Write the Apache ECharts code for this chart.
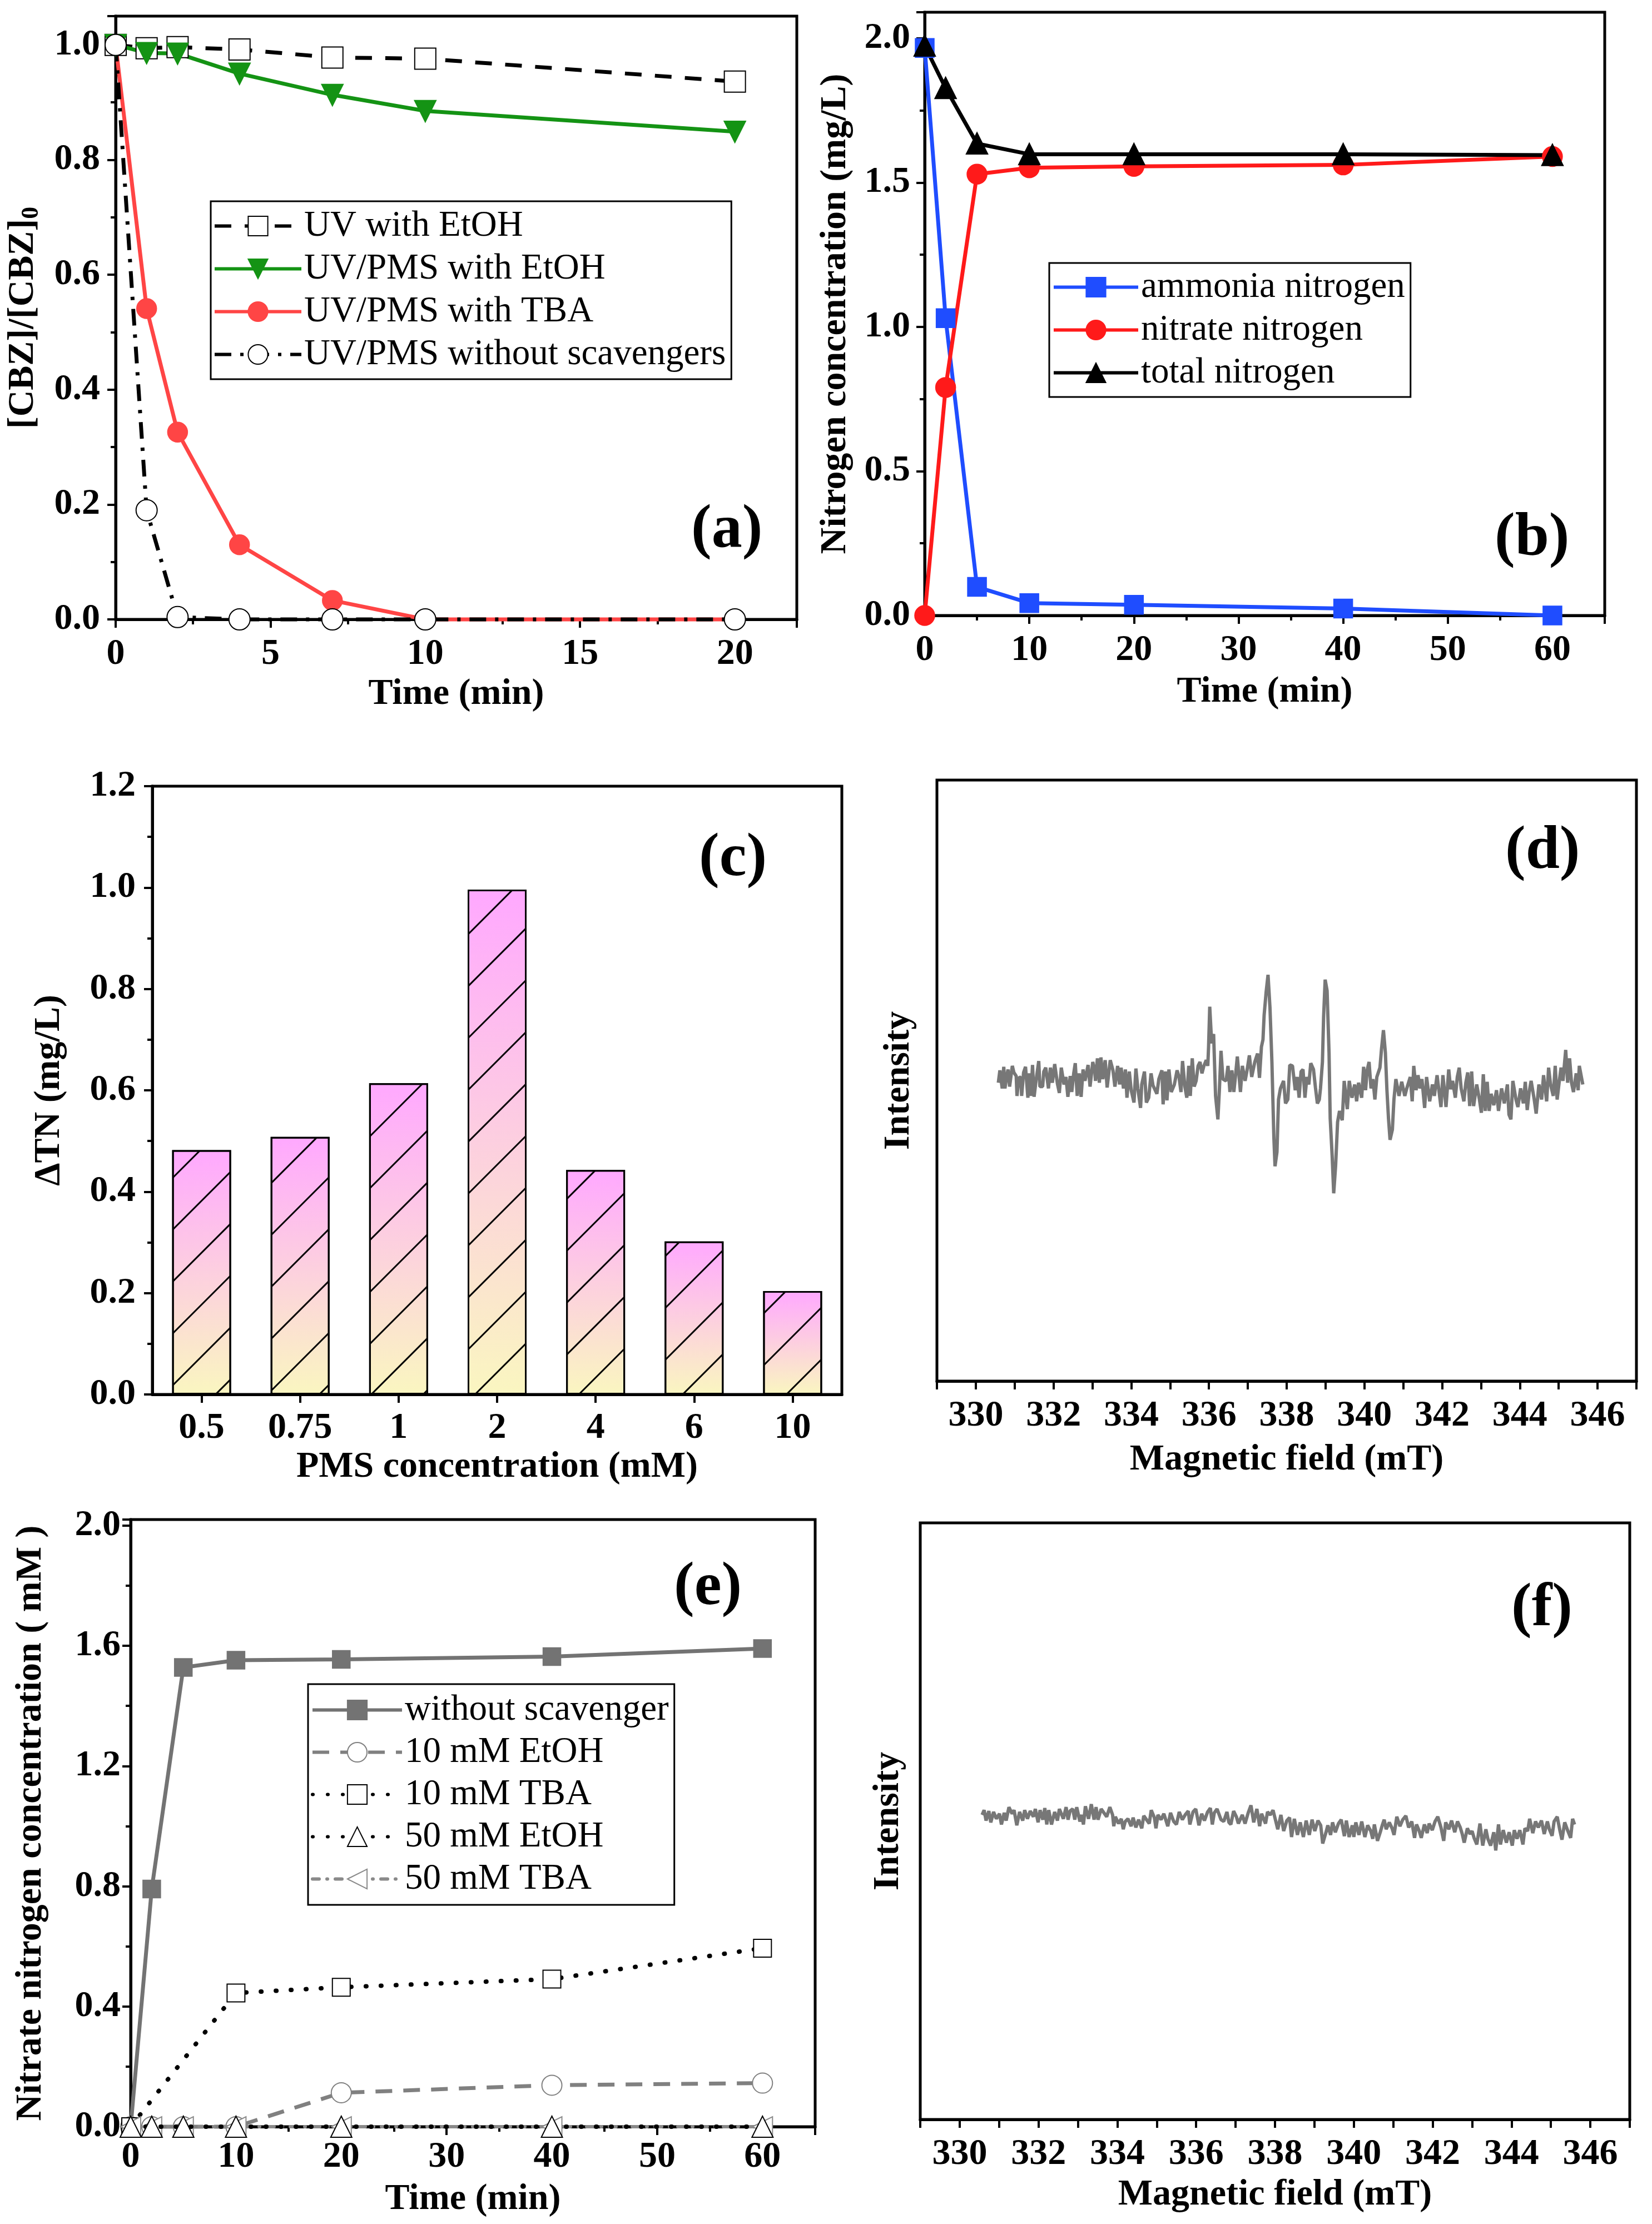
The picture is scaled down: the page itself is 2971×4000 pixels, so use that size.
<!DOCTYPE html>
<html>
<head>
<meta charset="utf-8">
<script src="https://cdn.jsdelivr.net/npm/echarts@6/dist/echarts.min.js"></script>
<style>
  html, body { margin: 0; padding: 0; background: #fff; }
  #main { width: 2971px; height: 4000px; }
</style>
</head>
<body>
<div id="main"></div>
<script>
/* six-panel figure: CBZ decay, nitrogen balance, PMS dose, ESR spectra */

// ---- (a) CBZ removal ----
var timeA = [0, 1, 2, 4, 7, 10, 20];
var uvEtoh = [1.0, 0.994, 0.996, 0.992, 0.978, 0.976, 0.936];
var uvPmsEtoh = [1.0, 0.986, 0.985, 0.95, 0.913, 0.885, 0.849];
var uvPmsTba = [1.0, 0.541, 0.326, 0.13, 0.033, 0.0, 0.0];
var uvPmsNone = [1.0, 0.19, 0.004, 0.0, 0.0, 0.0, 0.0];

// ---- (b) nitrogen species ----
var timeB = [0, 2, 5, 10, 20, 40, 60];
var ammoniaN = [1.966, 1.03, 0.099, 0.043, 0.037, 0.024, 0.0];
var nitrateN = [0.0, 0.79, 1.529, 1.551, 1.556, 1.561, 1.59];
var totalN = [1.974, 1.827, 1.635, 1.598, 1.598, 1.598, 1.595];

// ---- (c) delta TN vs PMS dose ----
var pmsConc = ['0.5', '0.75', '1', '2', '4', '6', '10'];
var deltaTN = [0.482, 0.508, 0.614, 0.996, 0.443, 0.302, 0.204];

// ---- (e) nitrate with scavengers ----
var timeE = [0, 2, 5, 10, 20, 40, 60];
var noScav = [0.0, 0.791, 1.528, 1.552, 1.555, 1.564, 1.591];
var etoh10 = [0, 0, 0, 0, 0.113, 0.138, 0.145];
var timeTba10 = [0, 10, 20, 40, 60];
var tba10 = [0, 0.445, 0.464, 0.491, 0.594];
var etoh50 = [0, 0, 0, 0, 0, 0, 0];
var tba50 = [0, 0, 0, 0, 0, 0, 0];

// ---- (d) ESR spectrum, [field mT, intensity a.u.] ----
var dSpectrum = [
  [330.58,1.3],[330.62,5.4],[330.68,-0.6],[330.72,6.6],[330.75,-0.6],[330.79,3.2],[330.83,5.7],[330.87,0.0],
  [330.94,6.9],[330.98,4.7],[331.04,3.5],[331.06,-3.1],[331.11,2.9],[331.16,3.2],[331.18,-3.1],[331.23,4.7],
  [331.28,6.6],[331.34,-3.7],[331.38,4.4],[331.42,-3.1],[331.46,7.2],[331.50,-3.4],[331.55,1.9],[331.62,8.5],
  [331.65,0.0],[331.72,0.0],[331.75,5.0],[331.80,6.3],[331.87,-0.6],[331.92,6.3],[331.97,1.3],[332.03,7.5],
  [332.10,1.0],[332.15,-2.1],[332.20,6.3],[332.27,0.7],[332.32,3.2],[332.37,-3.4],[332.43,3.5],[332.47,-1.8],
  [332.52,4.4],[332.56,7.8],[332.61,-3.1],[332.66,4.4],[332.71,-3.4],[332.76,5.7],[332.81,1.9],[332.89,7.2],
  [332.94,0.0],[333.01,8.2],[333.06,5.4],[333.08,1.9],[333.13,9.4],[333.18,1.3],[333.22,9.7],[333.27,2.5],
  [333.33,8.8],[333.38,-0.3],[333.46,8.8],[333.53,5.4],[333.58,0.0],[333.65,6.9],[333.70,0.7],[333.74,6.3],
  [333.80,-0.6],[333.85,5.7],[333.89,-3.7],[333.95,5.0],[334.00,-1.2],[334.07,-5.3],[334.12,6.0],[334.17,-0.6],
  [334.24,-7.1],[334.27,0.7],[334.34,5.0],[334.39,-5.3],[334.45,-3.7],[334.51,4.4],[334.56,0.4],[334.66,-2.4],
  [334.71,2.5],[334.79,5.4],[334.82,-5.9],[334.88,5.0],[334.92,-4.6],[334.97,5.7],[335.03,-1.8],[335.11,0.7],
  [335.18,5.4],[335.23,3.2],[335.28,-1.8],[335.32,8.5],[335.38,0.0],[335.43,-3.7],[335.48,6.9],[335.52,-3.1],
  [335.57,9.4],[335.62,0.0],[335.67,1.9],[335.72,6.9],[335.77,8.2],[335.82,4.4],[335.87,6.9],[335.93,8.8],
  [335.97,6.9],[335.99,13.2],[336.02,26.6],[336.07,14.4],[336.12,17.5],[336.17,-3.1],[336.23,-10.9],[336.27,-0.6],
  [336.31,11.9],[336.36,2.5],[336.44,1.9],[336.49,6.9],[336.54,-1.8],[336.59,5.4],[336.64,-1.8],[336.68,3.2],
  [336.73,10.0],[336.81,-1.8],[336.86,6.9],[336.93,1.9],[336.98,5.4],[337.04,10.4],[337.10,3.2],[337.18,8.2],
  [337.25,11.0],[337.30,2.9],[337.35,13.2],[337.39,15.6],[337.42,23.8],[337.47,31.3],[337.52,37.2],[337.57,26.3],
  [337.62,8.2],[337.67,-16.8],[337.70,-26.5],[337.75,-21.8],[337.79,-4.3],[337.84,-0.6],[337.92,1.9],[337.97,-5.6],
  [338.03,-4.3],[338.08,7.2],[338.15,6.9],[338.22,-1.2],[338.27,3.2],[338.32,-3.7],[338.37,5.0],[338.42,5.7],
  [338.47,-3.7],[338.52,3.2],[338.57,0.7],[338.62,7.8],[338.69,5.7],[338.74,-0.3],[338.79,-5.6],[338.84,-4.3],
  [338.87,-0.6],[338.92,8.2],[338.95,23.1],[338.99,35.6],[339.04,31.9],[339.09,11.3],[339.12,-10.6],[339.17,-23.0],
  [339.21,-35.5],[339.26,-26.2],[339.31,-11.8],[339.36,-8.1],[339.43,-11.2],[339.48,1.9],[339.56,-7.5],[339.61,1.9],
  [339.68,-3.7],[339.75,0.7],[339.80,-4.9],[339.85,1.3],[339.93,-3.7],[339.98,6.6],[340.03,-1.2],[340.07,5.4],
  [340.12,8.2],[340.17,-0.6],[340.22,2.5],[340.27,-4.3],[340.32,3.2],[340.40,6.3],[340.44,12.5],[340.49,18.8],
  [340.54,11.3],[340.58,-1.2],[340.62,-10.6],[340.66,-17.7],[340.72,-14.3],[340.76,-4.3],[340.81,2.5],[340.89,-3.1],
  [340.96,1.6],[341.04,-3.1],[341.09,-0.6],[341.18,3.2],[341.23,-4.9],[341.27,6.9],[341.33,-1.2],[341.38,3.8],
  [341.43,-0.6],[341.48,2.5],[341.55,-7.1],[341.60,3.2],[341.68,-4.9],[341.75,0.7],[341.80,-3.1],[341.87,3.8],
  [341.97,-6.8],[342.02,3.8],[342.10,-6.8],[342.17,5.7],[342.22,-0.9],[342.27,1.9],[342.34,-3.7],[342.39,3.2],
  [342.44,6.3],[342.49,-0.6],[342.56,-4.9],[342.61,1.3],[342.66,4.7],[342.71,-6.5],[342.76,5.0],[342.81,-6.5],
  [342.89,0.7],[342.96,-4.3],[343.01,-8.7],[343.06,4.1],[343.11,-8.1],[343.16,1.6],[343.21,-8.1],[343.26,-2.4],
  [343.33,-6.2],[343.40,-1.2],[343.45,-8.1],[343.53,-0.6],[343.60,-5.6],[343.68,0.7],[343.72,-9.3],[343.77,-10.9],
  [343.82,1.9],[343.90,-4.3],[343.95,-6.8],[344.02,-0.6],[344.09,-5.6],[344.14,1.6],[344.19,-7.8],[344.24,-1.8],
  [344.29,1.9],[344.37,-4.3],[344.42,-9.0],[344.49,0.7],[344.56,-4.3],[344.61,3.8],[344.69,-4.9],[344.74,6.3],
  [344.79,0.7],[344.86,-3.1],[344.91,6.9],[344.96,-4.3],[345.01,1.3],[345.06,6.3],[345.11,1.9],[345.18,12.2],
  [345.23,1.3],[345.28,9.4],[345.33,1.3],[345.38,-1.8],[345.45,4.4],[345.50,-1.2],[345.53,6.9],[345.62,0.7]
];

// ---- (f) ESR spectrum without signal ----
var fSpectrum = [
  [330.57,2.1],[330.62,3.7],[330.67,0.2],[330.74,3.4],[330.79,-0.4],[330.86,3.1],[330.93,0.8],[331.01,2.5],
  [331.06,-1.1],[331.13,2.8],[331.18,0.2],[331.25,4.7],[331.33,2.5],[331.38,3.7],[331.45,-1.4],[331.52,3.1],
  [331.60,0.2],[331.65,3.7],[331.72,0.8],[331.79,3.4],[331.87,1.5],[331.92,4.1],[331.99,-0.4],[332.04,3.7],
  [332.11,0.5],[332.16,4.4],[332.21,-1.1],[332.26,3.7],[332.33,-1.1],[332.41,3.1],[332.48,0.2],[332.53,4.1],
  [332.63,0.8],[332.70,4.7],[332.75,0.5],[332.80,3.4],[332.87,4.1],[332.92,0.5],[332.97,4.7],[333.05,-0.1],
  [333.10,2.1],[333.14,-1.1],[333.19,5.0],[333.27,0.8],[333.34,5.7],[333.41,0.5],[333.46,4.7],[333.51,0.5],
  [333.59,4.1],[333.66,2.8],[333.73,1.5],[333.81,4.7],[333.88,2.1],[333.91,-1.7],[333.95,1.5],[334.03,-0.8],
  [334.10,0.8],[334.15,-2.7],[334.20,-0.1],[334.27,0.8],[334.35,-1.7],[334.40,1.2],[334.47,-2.1],[334.54,0.5],
  [334.62,-2.4],[334.67,1.8],[334.74,0.5],[334.81,-0.8],[334.86,3.7],[334.94,1.2],[334.98,-2.4],[335.03,2.1],
  [335.11,0.5],[335.18,2.5],[335.28,-1.7],[335.35,2.8],[335.43,-0.1],[335.50,-1.1],[335.57,3.1],[335.65,0.5],
  [335.72,2.1],[335.80,3.4],[335.84,-1.1],[335.92,3.1],[335.99,4.1],[336.07,-1.4],[336.14,2.5],[336.21,0.2],
  [336.29,3.1],[336.36,4.4],[336.41,-1.1],[336.46,2.8],[336.53,4.1],[336.63,0.5],[336.70,-0.1],[336.78,3.1],
  [336.83,-0.4],[336.88,-1.1],[336.95,3.4],[337.02,1.5],[337.07,-0.8],[337.17,2.1],[337.24,-0.8],[337.32,2.8],
  [337.39,5.3],[337.46,-0.4],[337.54,4.1],[337.61,-1.7],[337.66,2.5],[337.76,-0.8],[337.81,3.1],[337.88,2.1],
  [337.95,3.7],[338.07,-2.7],[338.15,2.1],[338.22,-3.3],[338.30,0.2],[338.37,1.2],[338.42,-5.3],[338.49,0.8],
  [338.57,-4.6],[338.64,-0.4],[338.72,-5.3],[338.79,0.2],[338.87,-4.6],[338.94,0.5],[339.01,-3.3],[339.09,0.2],
  [339.16,-1.4],[339.21,-7.5],[339.29,-3.9],[339.34,-1.4],[339.41,-4.6],[339.46,-0.4],[339.53,-3.7],[339.61,-0.8],
  [339.68,0.5],[339.76,-5.0],[339.81,0.2],[339.88,-5.3],[339.96,-1.4],[340.00,-5.3],[340.05,-0.4],[340.13,-4.6],
  [340.20,-0.1],[340.28,-5.3],[340.35,-1.4],[340.43,-3.3],[340.48,-5.9],[340.52,-1.1],[340.60,-6.6],[340.67,-3.7],
  [340.72,-1.4],[340.77,0.5],[340.82,-2.7],[340.90,-0.4],[340.97,-2.4],[341.02,-4.6],[341.09,1.5],[341.17,-1.7],
  [341.24,0.5],[341.32,1.8],[341.39,-2.1],[341.47,-0.1],[341.54,-5.6],[341.59,-1.1],[341.66,-3.3],[341.71,-5.6],
  [341.79,-1.1],[341.86,-4.0],[341.91,-0.8],[341.99,-3.0],[342.06,-0.1],[342.13,1.5],[342.21,-2.1],[342.28,-6.6],
  [342.33,-0.4],[342.41,-2.7],[342.48,0.2],[342.56,-3.7],[342.63,-0.1],[342.70,-2.1],[342.75,-4.3],[342.80,-7.2],
  [342.88,-2.4],[342.95,-4.3],[343.00,-3.3],[343.05,-5.6],[343.12,-7.8],[343.20,-0.8],[343.27,-8.2],[343.35,-2.7],
  [343.40,-5.9],[343.47,-8.2],[343.55,-3.7],[343.60,-9.8],[343.67,-1.1],[343.72,-7.8],[343.79,-3.0],[343.87,-7.2],
  [343.94,-3.7],[344.02,-8.2],[344.07,-3.0],[344.14,-5.9],[344.21,-3.0],[344.29,-7.8],[344.34,-2.4],[344.41,-3.3],
  [344.46,0.8],[344.54,-4.0],[344.61,-0.1],[344.68,-2.1],[344.76,0.2],[344.83,-4.3],[344.91,-0.1],[344.96,-2.7],
  [345.03,-4.9],[345.08,-0.1],[345.16,1.5],[345.23,-3.3],[345.28,-6.2],[345.35,-0.4],[345.43,-3.3],[345.50,-5.6],
  [345.55,0.8],[345.60,-1.1]
];

(function () {
  'use strict';
  var FONT = "'Liberation Serif', 'Times New Roman', serif";
  var chart = echarts.init(document.getElementById('main'), null, { renderer: 'canvas' });

  function pairs(xs, ys) {
    return xs.map(function (x, i) { return [x, ys[i]]; });
  }

  var tickText = { fontFamily: FONT, fontWeight: 'bold', fontSize: 66, color: '#000' };
  var nameText = { fontFamily: FONT, fontWeight: 'bold', fontSize: 66, color: '#000' };
  var axisLine = { show: true, onZero: false, lineStyle: { color: '#000', width: 5 } };
  var majorTick = { show: true, length: 15, lineStyle: { color: '#000', width: 4 } };
  var minorTick = { show: true, splitNumber: 2, length: 9, lineStyle: { color: '#000', width: 4 } };

  function fmt1(v) { return v.toFixed(1); }

  // value axis builder (ticks outside, bold Times labels)
  function valAxis(gi, min, max, step, name, gap, margin, more) {
    var ax = {
      type: 'value', gridIndex: gi, min: min, max: max, interval: step,
      name: name, nameLocation: 'middle', nameGap: gap, nameTextStyle: nameText,
      axisLine: axisLine, axisTick: majorTick, minorTick: minorTick,
      splitLine: { show: false }, minorSplitLine: { show: false },
      axisLabel: Object.assign({ margin: margin, showMaxLabel: false }, tickText)
    };
    return Object.assign(ax, more || {});
  }

  // ESR field axis: tick every 1 mT, label every 2 mT
  function fieldAxis(gi, gap) {
    return valAxis(gi, 329, 347, 1, 'Magnetic field (mT)', gap, 30, {
      minorTick: { show: false },
      axisLabel: Object.assign({ margin: 30, formatter: function (v) {
        return v % 2 === 0 ? String(v) : '';
      } }, tickText)
    });
  }
  function blankY(gi, min, max, gap) {
    return {
      type: 'value', gridIndex: gi, min: min, max: max,
      name: 'Intensity', nameLocation: 'middle', nameGap: gap, nameTextStyle: nameText,
      axisLine: { show: false }, axisTick: { show: false }, axisLabel: { show: false },
      splitLine: { show: false }
    };
  }

  var frame = { show: true, borderColor: '#000', borderWidth: 5, backgroundColor: 'transparent' };
  function grid(l, t, w, h) {
    return Object.assign({ left: l, top: t, width: w, height: h }, frame);
  }

  function legend(names, l, t, iw, gapTxt, gap, pad) {
    return {
      orient: 'vertical', left: l, top: t, data: names, selectedMode: false,
      itemWidth: iw, itemHeight: 44, itemGap: gap, itemTextGap: gapTxt, padding: pad,
      borderColor: '#000', borderWidth: 3, backgroundColor: '#fff',
      lineStyle: { width: 6 },
      textStyle: { fontFamily: FONT, fontSize: 65, color: '#000', lineHeight: 65 }
    };
  }

  function panelTag(txt, l, t) {
    return {
      text: txt, left: l, top: t, padding: 0,
      textStyle: { fontFamily: FONT, fontWeight: 'bold', fontSize: 110, lineHeight: 110, color: '#000' }
    };
  }

  function line(name, gi, data, color, sym, size, lt, extra) {
    var s = {
      type: 'line', name: name, xAxisIndex: gi, yAxisIndex: gi, data: data,
      symbol: sym, symbolSize: size, clip: false, z: 2,
      lineStyle: Object.assign({ color: color, width: 7 }, lt || {}),
      itemStyle: { color: color, borderColor: color, borderWidth: 3.5 }
    };
    return Object.assign(s, extra || {});
  }

  var barFill = new echarts.graphic.LinearGradient(0, 0, 0, 1, [
    { offset: 0, color: '#FFA8FF' },
    { offset: 1, color: '#FAF6C0' }
  ]);

  var option = {
    animation: false,
    backgroundColor: '#fff',
    title: [
      panelTag('(a)', 1243, 900),
      panelTag('(b)', 2688, 915),
      panelTag('(c)', 1257, 1491),
      panelTag('(d)', 2707, 1478),
      panelTag('(e)', 1212, 2802),
      panelTag('(f)', 2718, 2840)
    ],
    grid: [
      grid(208, 29, 1225, 1085),
      grid(1663, 22, 1223, 1085),
      grid(274, 1414, 1240, 1094),
      grid(1685, 1403, 1258, 1081),
      grid(235, 2733, 1231, 1092),
      grid(1655, 2739, 1276, 1073)
    ],
    legend: [
      legend(['UV with EtOH', 'UV/PMS with EtOH', 'UV/PMS with TBA', 'UV/PMS without scavengers'],
        379, 362, 156, 16, 12, [12, 10, 12, 4]),
      legend(['ammonia nitrogen', 'nitrate nitrogen', 'total nitrogen'],
        1887, 473, 152, 19, 12, [11, 10, 11, 5]),
      legend(['without scavenger', '10 mM EtOH', '10 mM TBA', '50 mM EtOH', '50 mM TBA'],
        554, 3029, 161, 11, 11, [14, 10, 14, 5])
    ],
    xAxis: [
      valAxis(0, 0, 22, 5, 'Time (min)', 102, 30),
      valAxis(1, 0, 65, 10, 'Time (min)', 105, 30),
      {
        type: 'category', gridIndex: 2, data: pmsConc,
        name: 'PMS concentration (mM)', nameLocation: 'middle', nameGap: 98, nameTextStyle: nameText,
        axisLine: axisLine, axisTick: Object.assign({ alignWithLabel: true }, majorTick),
        axisLabel: Object.assign({ margin: 28 }, tickText), splitLine: { show: false }
      },
      fieldAxis(3, 109),
      valAxis(4, 0, 65, 10, 'Time (min)', 98, 22),
      fieldAxis(5, 103)
    ],
    yAxis: [
      valAxis(0, 0, 1.05, 0.2, '[CBZ]/[CBZ]{s|0}', 129, 28, {
        nameTextStyle: Object.assign({
          rich: { s: { fontFamily: FONT, fontWeight: 'bold', fontSize: 44, padding: [30, 0, 0, 0] } }
        }, nameText),
        axisLabel: Object.assign({ margin: 28, showMaxLabel: false, formatter: fmt1 }, tickText)
      }),
      valAxis(1, 0, 2.09, 0.5, 'Nitrogen concentration (mg/L)', 127, 26, {
        axisLabel: Object.assign({ margin: 26, showMaxLabel: false, formatter: fmt1 }, tickText)
      }),
      valAxis(2, 0, 1.2, 0.2, 'ΔTN (mg/L)', 152, 30, {
        axisLabel: Object.assign({ margin: 30, showMaxLabel: true, formatter: fmt1 }, tickText)
      }),
      blankY(3, -98, 102, 35),
      valAxis(4, 0, 2.02, 0.4, 'Nitrate nitrogen concentration ( mM )', 146, 18, {
        axisLabel: Object.assign({ margin: 18, showMaxLabel: false, formatter: fmt1 }, tickText)
      }),
      blankY(5, -100, 100, 24)
    ],
    series: [
      // (a)
      line('UV with EtOH', 0, pairs(timeA, uvEtoh), '#000', 'emptyRect', 38, { type: [30, 24] }),
      line('UV/PMS with EtOH', 0, pairs(timeA, uvPmsEtoh), '#149314', 'triangle', 36, null, { symbolRotate: 180 }),
      line('UV/PMS with TBA', 0, pairs(timeA, uvPmsTba), '#FF4545', 'circle', 34),
      line('UV/PMS without scavengers', 0, pairs(timeA, uvPmsNone), '#000', 'emptyCircle', 38,
        { type: [30, 16, 6, 16] }),
      // (b)
      line('ammonia nitrogen', 1, pairs(timeB, ammoniaN), '#1F4DFF', 'rect', 32),
      line('nitrate nitrogen', 1, pairs(timeB, nitrateN), '#FF1A1A', 'circle', 34),
      line('total nitrogen', 1, pairs(timeB, totalN), '#000', 'triangle', 36),
      // (c)
      {
        type: 'bar', xAxisIndex: 2, yAxisIndex: 2, data: deltaTN, barWidth: 106,
        itemStyle: {
          color: barFill, borderColor: '#000', borderWidth: 3,
          decal: {
            symbol: 'rect', symbolSize: 1, color: '#000', backgroundColor: null,
            dashArrayX: [1, 0], dashArrayY: [3, 63], rotation: -Math.PI / 4
          }
        }
      },
      // (d)
      {
        type: 'line', name: 'ESR d', xAxisIndex: 3, yAxisIndex: 3, data: dSpectrum,
        symbol: 'none', clip: false, lineStyle: { color: '#777777', width: 6 }
      },
      // (e)
      line('without scavenger', 4, pairs(timeE, noScav), '#737373', 'rect', 30),
      line('10 mM EtOH', 4, pairs(timeE, etoh10), '#808080', 'emptyCircle', 36, { type: [30, 20] }),
      line('10 mM TBA', 4, pairs(timeTba10, tba10), '#000', 'emptyRect', 32,
        { type: [1, 26], cap: 'round', width: 8 }),
      line('50 mM EtOH', 4, pairs(timeE, etoh50), '#000', 'emptyTriangle', 38,
        { type: [1, 26], cap: 'round', width: 8 }, { z: 4 }),
      line('50 mM TBA', 4, pairs(timeE, tba50), '#8a8a8a', 'emptyTriangle', 36,
        { type: [12, 14, 1, 14], cap: 'round', width: 6 }, { symbolRotate: 90, z: 3 }),
      // (f)
      {
        type: 'line', name: 'ESR f', xAxisIndex: 5, yAxisIndex: 5, data: fSpectrum,
        symbol: 'none', clip: false, lineStyle: { color: '#777777', width: 6 }
      }
    ]
  };

  chart.setOption(option);
})();
</script>
</body>
</html>
